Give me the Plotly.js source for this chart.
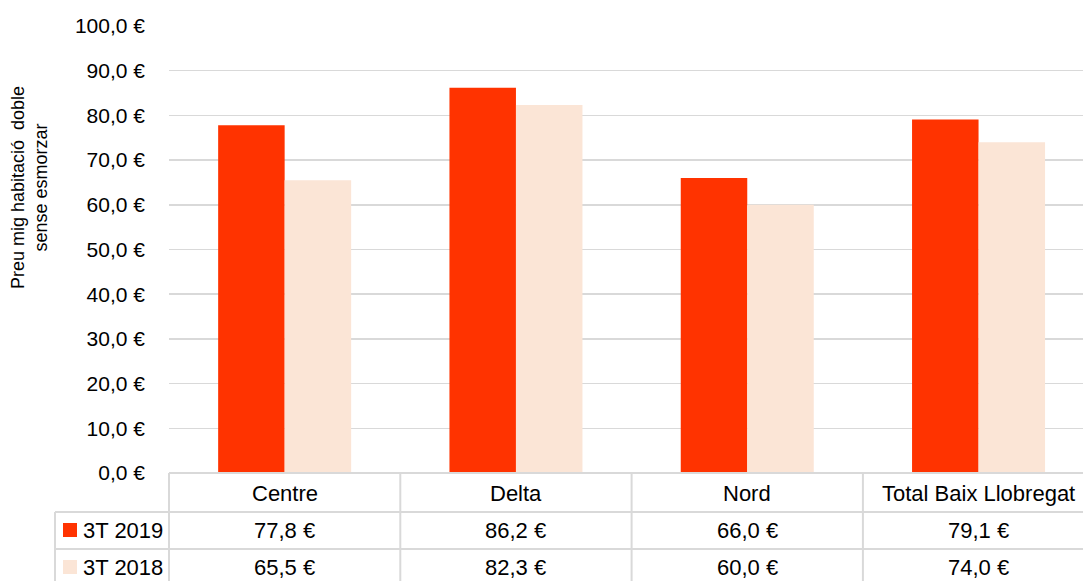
<!DOCTYPE html>
<html>
<head>
<meta charset="utf-8">
<script src="https://cdn.plot.ly/plotly-3.0.1.min.js"></script>
<style>
html,body{margin:0;padding:0;background:#fff;overflow:hidden;}
#chart{width:1083px;height:581px;}
</style>
</head>
<body>
<div id="chart"></div>
<script>
const categories = ["Centre", "Delta", "Nord", "Total Baix Llobregat"];
const seriesNames = ["3T 2019", "3T 2018"];
const values2019 = [77.8, 86.2, 66.0, 79.1];
const values2018 = [65.5, 82.3, 60.0, 74.0];
const colors = ["#FF3300", "#FBE5D6"];
const yTitle = "Preu mig habitació  doble<br>sense esmorzar";

const W = 1083, H = 581;
const L = 169, R = 0, T = 26, B = 108;
const plotW = W - L - R, plotH = H - T - B;
const colW = 231.3;
const px2paperX = px => (px - L) / plotW;
const px2paperY = py => (H - B - py) / plotH;

const sans = "Liberation Sans, Arial, sans-serif";
const fmt = v => v.toFixed(1).replace(".", ",") + " €";

const idx = categories.map((c, i) => i);
const traces = [values2019, values2018].map((vals, k) => ({
  type: "bar",
  x: idx,
  y: vals,
  name: seriesNames[k],
  marker: {color: colors[k], line: {width: 0}},
  hoverinfo: "skip"
}));

const gray = "#d9d9d9";
const shapes = [];
const line = (x0, y0, x1, y1) => shapes.push({
  type: "line", xref: "paper", yref: "paper",
  x0: px2paperX(x0), y0: px2paperY(y0), x1: px2paperX(x1), y1: px2paperY(y1),
  line: {color: gray, width: 2}
});
// table horizontal lines
line(L, 473, W + 20, 473);
line(55, 512, W + 20, 512);
line(55, 549, W + 20, 549);
// table vertical lines
for (let i = 0; i <= categories.length; i++) {
  line(L + colW * i, 473, L + colW * i, H + 10);
}
line(55, 512, 55, H + 10);
// legend keys
const rowY = [530, 567];
seriesNames.forEach((n, k) => {
  shapes.push({
    type: "rect", xref: "paper", yref: "paper",
    x0: px2paperX(63), x1: px2paperX(77),
    y0: px2paperY(rowY[k] - 7), y1: px2paperY(rowY[k] + 7),
    fillcolor: colors[k], line: {width: 0}
  });
});

const annotations = [];
categories.forEach((c, i) => {
  annotations.push({
    xref: "x", yref: "paper", x: i, y: px2paperY(493),
    text: c, showarrow: false, xanchor: "center", yanchor: "middle",
    font: {family: sans, size: 22, color: "#000"}
  });
  [values2019, values2018].forEach((vals, k) => {
    annotations.push({
      xref: "x", yref: "paper", x: i, y: px2paperY(rowY[k]),
      text: fmt(vals[i]), showarrow: false, xanchor: "center", yanchor: "middle",
      font: {family: sans, size: 22, color: "#000"}
    });
  });
});
seriesNames.forEach((n, k) => {
  annotations.push({
    xref: "paper", yref: "paper", x: px2paperX(81), y: px2paperY(rowY[k]),
    text: n, showarrow: false, xanchor: "left", yanchor: "middle",
    font: {family: sans, size: 22, color: "#000"}
  });
});
annotations.push({
  xref: "paper", yref: "paper", x: px2paperX(29), y: px2paperY(188),
  text: yTitle, showarrow: false, textangle: -90,
  xanchor: "center", yanchor: "middle",
  font: {family: sans, size: 18, color: "#000"}
});

const layout = {
  width: W, height: H,
  margin: {l: L, r: R, t: T, b: B, pad: 0},
  paper_bgcolor: "#fff", plot_bgcolor: "#fff",
  separators: ",.",
  showlegend: false,
  barmode: "group",
  bargap: 0.425,
  bargroupgap: 0,
  xaxis: {
    range: [-0.5, -0.5 + plotW / colW],
    showticklabels: false, showgrid: false, zeroline: false, showline: false,
    ticks: "", fixedrange: true
  },
  yaxis: {
    range: [0, 100], dtick: 10, tick0: 0,
    tickformat: ".1f", ticksuffix: " €",
    showgrid: true, gridcolor: gray, gridwidth: 1.5,
    zeroline: false, showline: false, ticks: "",
    ticklabelstandoff: 23,
    tickfont: {family: sans, size: 21, color: "#000"},
    fixedrange: true
  },
  shapes: shapes,
  annotations: annotations
};

Plotly.newPlot("chart", traces, layout, {staticPlot: true, displayModeBar: false});
</script>
</body>
</html>
